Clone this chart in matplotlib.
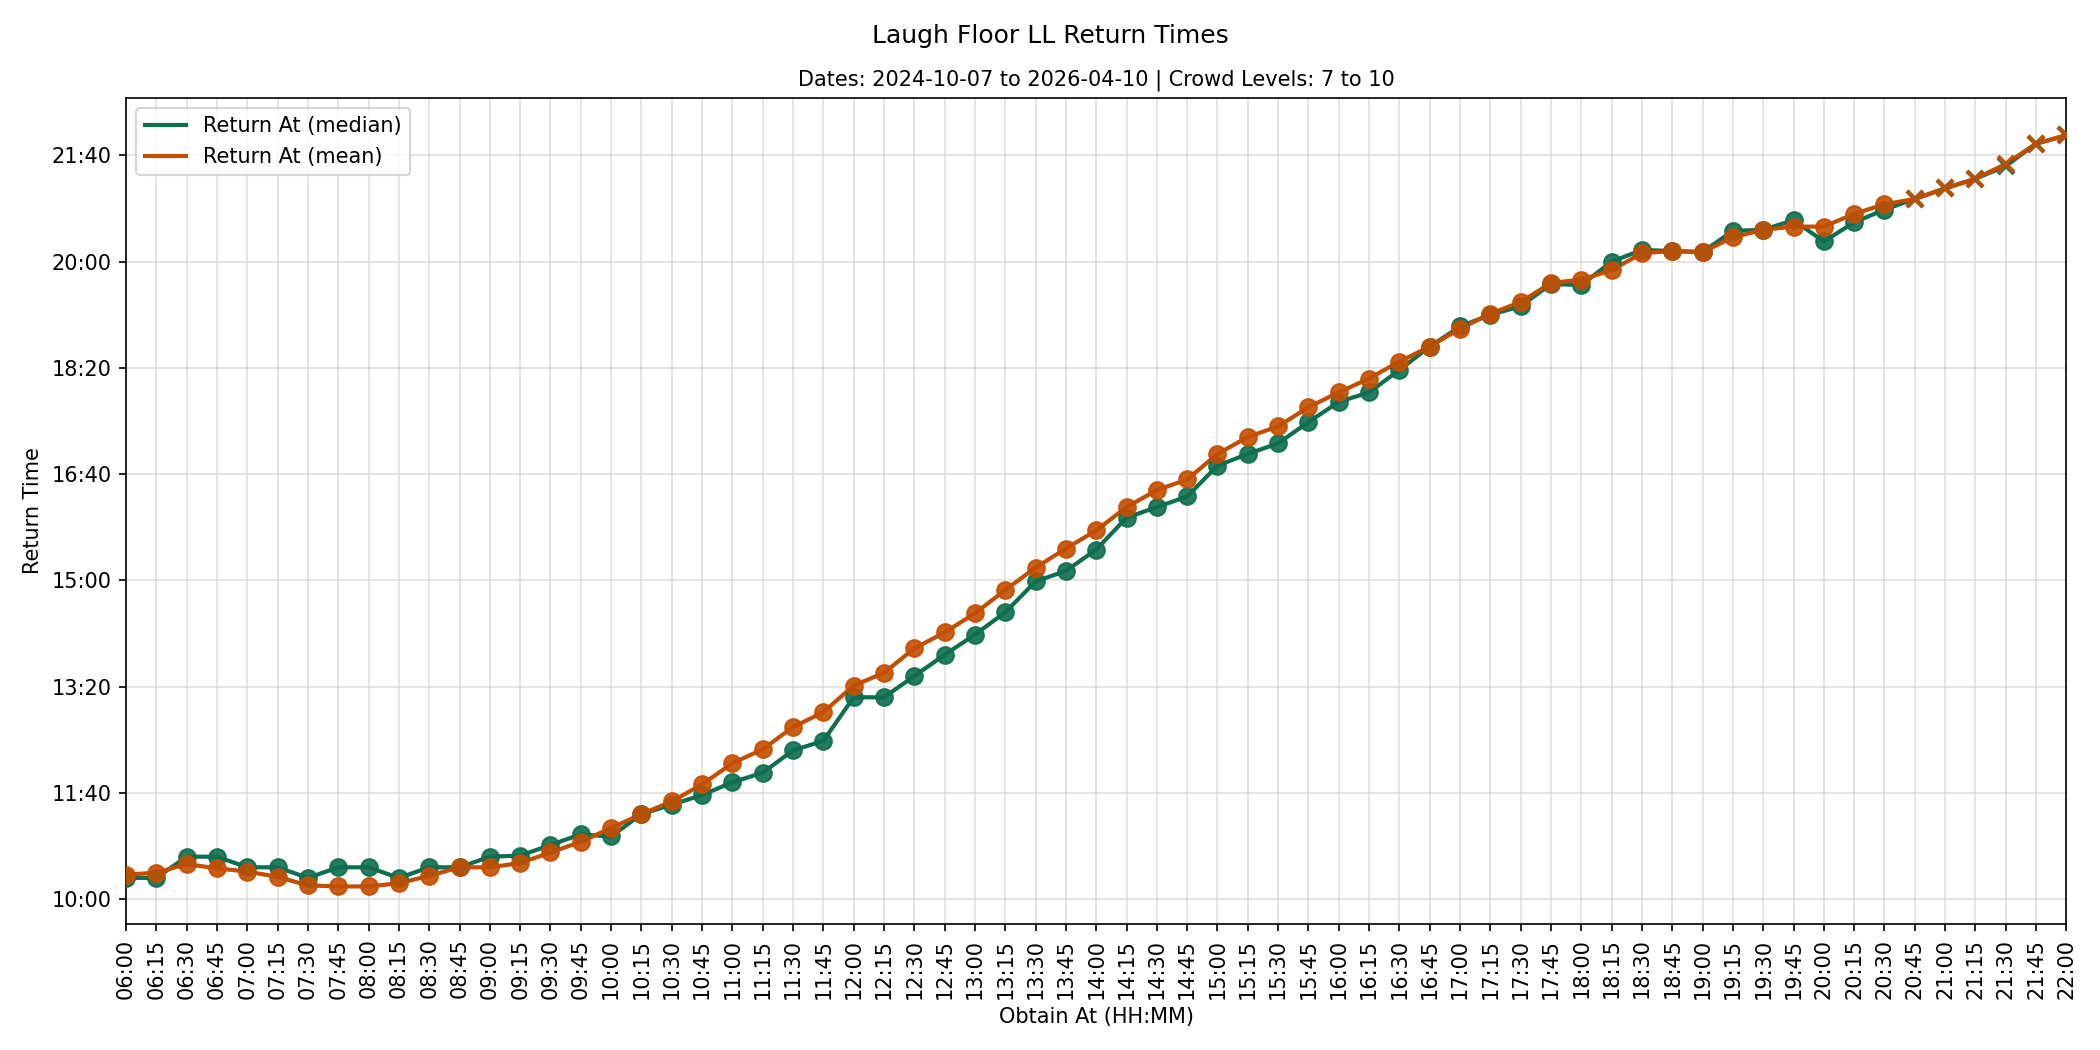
import matplotlib
matplotlib.use("Agg")
import matplotlib.pyplot as plt
from matplotlib.ticker import MultipleLocator, FuncFormatter
import numpy as np

# obtain times, 06:00 .. 22:00 every 15 minutes
obtain_labels = [f"{h:02d}:{m:02d}" for h in range(6, 22) for m in (0, 15, 30, 45)] + ["22:00"]

# return times in minutes after midnight
median_return = [
    620, 620, 640, 640, 630, 630, 620, 630, 630, 620, 630, 630, 640, 641,
    651, 661, 659, 680, 689, 698, 710, 719, 740, 749, 790, 790, 810, 830,
    849, 870, 899, 909, 929, 959, 969, 979, 1008, 1019, 1029, 1049, 1068,
    1077, 1098, 1120, 1139, 1150, 1158, 1179, 1178, 1200, 1211, 1210, 1209,
    1229, 1230, 1239, 1219, 1237, 1249, 1259, 1269, 1278, 1290, 1311, 1319,
]
mean_return = [
    623, 625, 633, 629, 626, 621, 613, 612, 612, 615, 622, 630, 630, 634,
    644, 654, 667, 680, 692, 708, 728, 741, 762, 776, 801, 813, 836, 851,
    869, 891, 912, 930, 947, 969, 985, 995, 1019, 1035, 1045, 1063, 1077,
    1090, 1106, 1120, 1137, 1151, 1162, 1180, 1183, 1192, 1208, 1210, 1209,
    1223, 1230, 1233, 1233, 1245, 1254, 1259, 1269, 1278, 1292, 1311, 1319,
]
# points from this index on are drawn with an x marker
sparse_from = 59

GREEN = "#0e6e4f"
ORANGE = "#c44e00"


def hhmm(v, pos=None):
    v = int(round(v))
    return f"{v // 60:02d}:{v % 60:02d}"


def main():
    x = np.array([int(s[:2]) * 60 + int(s[3:]) for s in obtain_labels])
    series = [
        ("Return At (median)", np.array(median_return), GREEN),
        ("Return At (mean)", np.array(mean_return), ORANGE),
    ]

    fig, ax = plt.subplots(figsize=(14, 7), dpi=150)

    for label, y, color in series:
        ax.plot(x, y, color=color, lw=2, label=label, zorder=3)
        ax.plot(x[:sparse_from], y[:sparse_from], "o", color=color,
                ms=8, alpha=0.9, zorder=4)
        ax.plot(x[sparse_from:], y[sparse_from:], "x", color=color,
                ms=8, mew=2, alpha=0.9, zorder=4)

    ax.set_xlim(x[0], x[-1])
    ax.set_xticks(x)
    ax.set_xticklabels(obtain_labels, rotation=90)
    ax.yaxis.set_major_locator(MultipleLocator(100))
    ax.yaxis.set_major_formatter(FuncFormatter(hhmm))

    ax.grid(True, color="#cccccc", alpha=0.6, lw=0.8)
    ax.set_axisbelow(True)

    ax.set_xlabel("Obtain At (HH:MM)")
    ax.set_ylabel("Return Time")
    ax.set_title("Dates: 2024-10-07 to 2026-04-10 | Crowd Levels: 7 to 10", fontsize=10)
    fig.suptitle("Laugh Floor LL Return Times", fontsize=12, y=0.977)
    ax.legend(loc="upper left")

    fig.subplots_adjust(left=0.06, right=0.984, top=0.907, bottom=0.12)
    fig.savefig("out.png", dpi=150)


if __name__ == "__main__":
    main()
